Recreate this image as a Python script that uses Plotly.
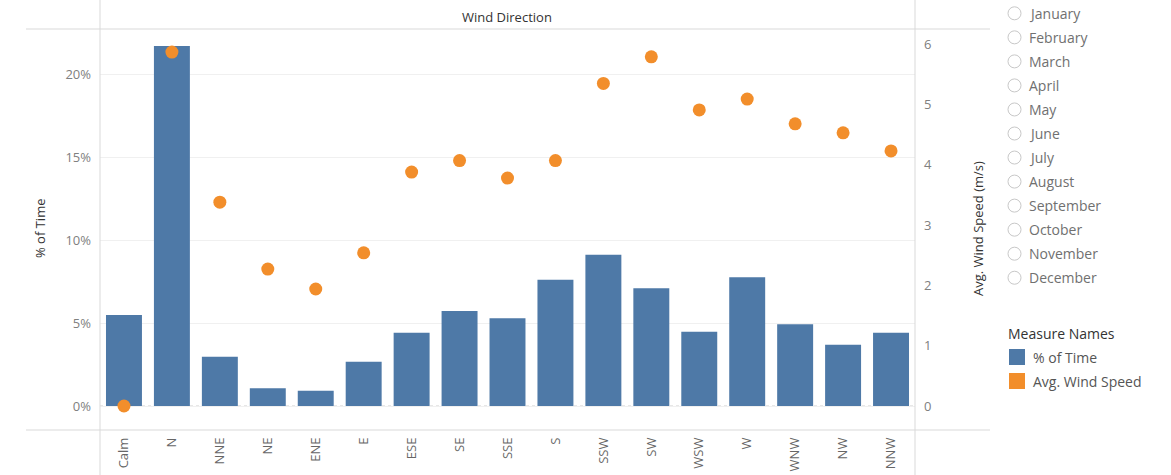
import plotly.graph_objects as go

# Wind rose summary: share of time per direction and mean speed
directions = ["Calm", "N", "NNE", "NE", "ENE", "E", "ESE", "SE", "SSE",
              "S", "SSW", "SW", "WSW", "W", "WNW", "NW", "NNW"]
pct_time = [0.0549, 0.2171, 0.0297, 0.0107, 0.0092, 0.0267, 0.0442, 0.0573, 0.0529,
            0.0762, 0.0913, 0.0710, 0.0448, 0.0776, 0.0493, 0.0370, 0.0442]
avg_speed = [0.00, 5.87, 3.38, 2.27, 1.94, 2.54, 3.88, 4.07, 3.78,
             4.07, 5.35, 5.79, 4.91, 5.09, 4.68, 4.53, 4.23]
months = ["January", "February", "March", "April", "May", "June", "July",
          "August", "September", "October", "November", "December"]
measure_names = ["% of Time", "Avg. Wind Speed"]

W, H = 1171, 475
BLUE = "#4e79a7"
ORANGE = "#f28e2b"
FONT = "Open Sans"
LINE = "#d9d9d9"


def px(x):
    return x / W


def py(y):
    return 1 - y / H


fig = go.Figure()
fig.add_trace(go.Bar(
    x=directions, y=pct_time, name=measure_names[0],
    marker=dict(color=BLUE, line=dict(width=0)), width=0.75,
    yaxis="y", hovertemplate="%{x}: %{y:.1%}<extra></extra>",
))
fig.add_trace(go.Scatter(
    x=directions, y=avg_speed, name=measure_names[1], mode="markers",
    marker=dict(color=ORANGE, size=13, line=dict(width=0)),
    yaxis="y2", hovertemplate="%{x}: %{y:.2f} m/s<extra></extra>",
))

x0, x1 = px(100), px(915)
y0, y1 = py(430), py(29)

shapes = [
    # frame lines
    dict(type="line", xref="paper", yref="paper", x0=x0, x1=x0, y0=0, y1=1,
         line=dict(color=LINE, width=1)),
    dict(type="line", xref="paper", yref="paper", x0=x1, x1=x1, y0=0, y1=1,
         line=dict(color=LINE, width=1)),
    dict(type="line", xref="paper", yref="paper", x0=px(26), x1=px(990), y0=y1, y1=y1,
         line=dict(color=LINE, width=1)),
    dict(type="line", xref="paper", yref="paper", x0=px(26), x1=px(990), y0=y0, y1=y0,
         line=dict(color=LINE, width=1)),
    # dotted baseline
    dict(type="line", xref="paper", yref="y", x0=x0, x1=x1, y0=0, y1=0,
         line=dict(color="#cfcfcf", width=1, dash="dot"), layer="below"),
]


def label(text, x, y, size=13, color="#333333", xanchor="center", angle=0):
    return dict(text=text, x=px(x), y=py(y), xref="paper", yref="paper",
                xanchor=xanchor, yanchor="middle", showarrow=False, textangle=angle,
                font=dict(family=FONT, size=size, color=color))


annotations = [
    label("Wind Direction", 507.5, 17, size=13),
    label("% of Time", 40, 229, size=13, angle=-90),
    label("Avg. Wind Speed (m/s)", 978, 229, size=13, angle=-90),
    label("Measure Names", 1006, 333, size=14, xanchor="left"),
]

# month filter list with radio buttons
for i, m in enumerate(months):
    cy = 13.3 + i * 24.04
    shapes.append(dict(type="circle", xref="paper", yref="paper",
                       x0=px(1008), x1=px(1021), y0=py(cy + 6.5), y1=py(cy - 6.5),
                       line=dict(color="#c8c8c8", width=1), fillcolor="white"))
    annotations.append(label(m, 1027, cy, size=14, color="#707070", xanchor="left"))

# colour legend
for name, color, cy in zip(measure_names, [BLUE, ORANGE], [357, 381]):
    shapes.append(dict(type="rect", xref="paper", yref="paper",
                       x0=px(1009), x1=px(1025), y0=py(cy + 8), y1=py(cy - 8),
                       line=dict(width=0), fillcolor=color))
    annotations.append(label(name, 1031, cy, size=14, color="#555555", xanchor="left"))

fig.update_layout(
    width=W, height=H, margin=dict(l=0, r=0, t=0, b=0),
    paper_bgcolor="white", plot_bgcolor="white", showlegend=False,
    font=dict(family=FONT, size=13, color="#666666"),
    xaxis=dict(domain=[x0, x1], type="category", range=[-0.5, 16.5],
               tickangle=-90, showgrid=False, showline=False, zeroline=False,
               tickfont=dict(family=FONT, size=13, color="#666666"),
               ticklabelstandoff=4),
    yaxis=dict(domain=[y0, y1], range=[-0.01447, 0.2274], tickvals=[0, 0.05, 0.10, 0.15, 0.20],
               tickformat=".0%", showgrid=True, gridcolor="#f0f0f0", zeroline=False,
               showline=False, tickfont=dict(family=FONT, size=13, color="#808080"),
               ticklabelstandoff=8),
    yaxis2=dict(overlaying="y", side="right", anchor="x", range=[-0.398, 6.252],
                tickvals=[0, 1, 2, 3, 4, 5, 6], showgrid=False, zeroline=False,
                showline=False, tickfont=dict(family=FONT, size=13, color="#808080"),
                ticklabelstandoff=8),
    shapes=shapes, annotations=annotations,
    bargap=0.25,
)

fig.write_html("out.html")
